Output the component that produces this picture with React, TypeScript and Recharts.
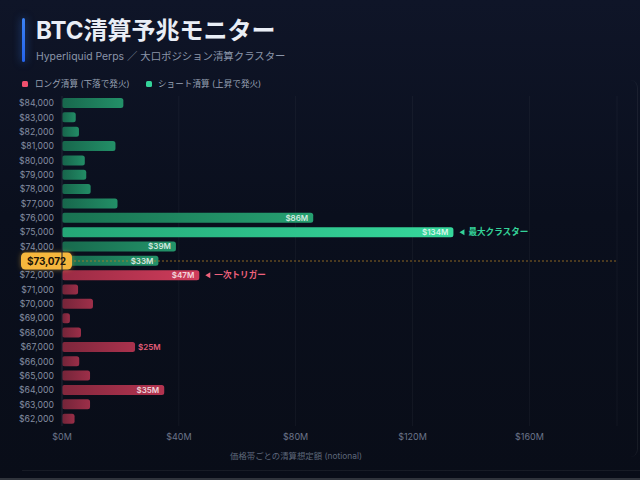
import React from "react";
import {
  BarChart,
  Bar,
  XAxis,
  YAxis,
  CartesianGrid,
  ReferenceLine,
  LabelList,
  Cell,
} from "recharts";

// ---- data ----
const prices = [
  84000, 83000, 82000, 81000, 80000, 79000, 78000, 77000, 76000, 75000, 74000, 73000,
  72000, 71000, 70000, 69000, 68000, 67000, 66000, 65000, 64000, 63000, 62000,
];
// short liquidations (above), $M, for 84000..73000
const shortValues = [21, 4.7, 5.8, 18.3, 7.8, 8.3, 9.8, 19, 86, 134, 39, 33];
// long liquidations (below), $M, for 72000..62000
const longValues = [47, 5.5, 10.6, 2.7, 6.5, 25, 5.9, 9.6, 35, 9.6, 4.3];
const xTicks = [0, 40, 80, 120, 160];
const xMax = 190;
const currentPrice = 73072;
const currentPriceRow = 73000;
const maxClusterPrice = 75000;
const triggerPrice = 72000;
const labelThreshold = 25;

const rows = prices.map((p, i) => ({
  price: p,
  short: i < shortValues.length ? shortValues[i] : null,
  long: i >= shortValues.length ? longValues[i - shortValues.length] : null,
}));

const maxShort = Math.max(...shortValues);
const maxLong = Math.max(...longValues);
const triggerValue = rows.find((r) => r.price === triggerPrice)?.long;

const FONT = "Inter, 'Noto Sans CJK JP', 'Noto Sans', sans-serif";

const fmtPrice = (v: number) => "$" + Number(v).toLocaleString("en-US");

function makeLabel(side: "short" | "long") {
  return (props: any) => {
    const { x, y, width, height, value } = props;
    const nx = Number(x);
    const ny = Number(y);
    const w = Number(width);
    const h = Number(height);
    if (value === null || value === undefined || isNaN(nx)) return null;
    const cy = ny + h / 2;
    const endX = nx + w;
    const parts: React.ReactNode[] = [];
    if (value >= labelThreshold) {
      const inside = value >= 30;
      parts.push(
        <text
          key="v"
          x={inside ? endX - 5 : endX + 3}
          y={cy}
          dy="0.35em"
          textAnchor={inside ? "end" : "start"}
          fontSize={8}
          fontWeight={600}
          fontFamily={FONT}
          fill={inside ? "rgba(255,255,255,0.8)" : side === "long" ? "#e35d78" : "#34d399"}
        >
          {"$" + Math.round(value) + "M"}
        </text>
      );
    }
    const isMax = side === "short" && value === maxShort;
    const isTrigger = side === "long" && value === triggerValue;
    if (isMax || isTrigger) {
      const color = isMax ? "#34d399" : "#f0627c";
      const text = isMax ? "最大クラスター" : "一次トリガー";
      const tx = endX + 6;
      parts.push(
        <g key="a">
          <path d={`M${tx} ${cy} L${tx + 5} ${cy - 3} L${tx + 5} ${cy + 3} Z`} fill={color} />
          <text
            x={tx + 9}
            y={cy}
            dy="0.35em"
            fontSize={8.6}
            fontWeight={700}
            fontFamily={FONT}
            fill={color}
          >
            {text}
          </text>
        </g>
      );
    }
    return <g>{parts}</g>;
  };
}

const Badge = (props: any) => {
  const vb = props.viewBox || {};
  const x = Number(vb.x);
  const y = Number(vb.y);
  if (isNaN(x) || isNaN(y)) return null;
  return (
    <g>
      <rect
        x={x - 41}
        y={y - 8.5}
        width={51}
        height={17}
        rx={4.5}
        fill="#f6b73c"
        filter="url(#badgeGlow)"
      />
      <text
        x={x - 15.5}
        y={y}
        dy="0.36em"
        textAnchor="middle"
        fontSize={10}
        fontWeight={700}
        letterSpacing={-0.2}
        fontFamily={FONT}
        fill="#1d1406"
      >
        {fmtPrice(currentPrice)}
      </text>
    </g>
  );
};

export default function App() {
  return (
    <div
      style={{
        position: "absolute",
        left: 0,
        top: 0,
        width: 640,
        height: 480,
        overflow: "hidden",
        background: "linear-gradient(180deg, #0f1528 0%, #0a0f1d 45%, #090d18 100%)",
        fontFamily: FONT,
      }}
    >
      {/* accent bar */}
      <div
        style={{
          position: "absolute",
          left: 22,
          top: 18,
          width: 3,
          height: 44,
          borderRadius: 2,
          background: "linear-gradient(180deg, #3b82f6, #2563eb)",
          boxShadow: "0 0 8px rgba(59,130,246,0.6)",
        }}
      />
      <div
        style={{
          position: "absolute",
          left: 36,
          top: 18,
          fontSize: 24,
          lineHeight: "26px",
          fontWeight: 700,
          color: "#e9eef6",
          whiteSpace: "nowrap",
        }}
      >
        BTC清算予兆モニター
      </div>
      <div
        style={{
          position: "absolute",
          left: 36,
          top: 50,
          fontSize: 10.4,
          lineHeight: "14px",
          color: "#8b95a9",
          whiteSpace: "nowrap",
        }}
      >
        Hyperliquid Perps ／ 大口ポジション清算クラスター
      </div>
      {/* legend */}
      <div style={{ position: "absolute", left: 22, top: 81, width: 6, height: 6, borderRadius: 1.5, background: "#f0506e" }} />
      <div
        style={{ position: "absolute", left: 35, top: 78, fontSize: 8.6, lineHeight: "12px", color: "#98a1b3", whiteSpace: "nowrap" }}
      >
        ロング清算 (下落で発火)
      </div>
      <div style={{ position: "absolute", left: 146, top: 81, width: 6, height: 6, borderRadius: 1.5, background: "#34d399" }} />
      <div
        style={{ position: "absolute", left: 158, top: 78, fontSize: 8.6, lineHeight: "12px", color: "#98a1b3", whiteSpace: "nowrap" }}
      >
        ショート清算 (上昇で発火)
      </div>

      {/* faint panel edges */}
      <div
        style={{
          position: "absolute",
          left: 500,
          top: 80,
          width: 137,
          height: 377,
          borderRight: "1px solid rgba(255,255,255,0.06)",
          borderTopRightRadius: 8,
          borderBottomRightRadius: 8,
        }}
      />
      <div style={{ position: "absolute", left: 22, top: 470, width: 618, height: 1, background: "rgba(255,255,255,0.06)" }} />
      <div style={{ position: "absolute", left: 0, top: 478, width: 640, height: 2, background: "#30343c" }} />

      <div style={{ position: "absolute", left: 0, top: 0 }}>
        <BarChart
          width={640}
          height={480}
          data={rows}
          layout="vertical"
          margin={{ top: 96, right: 23, bottom: 24, left: 0 }}
        >
          <defs>
            <linearGradient id="gShort" x1="0" y1="0" x2="1" y2="0">
              <stop offset="0%" stopColor="#1a7a56" />
              <stop offset="100%" stopColor="#28ad78" />
            </linearGradient>
            <linearGradient id="gShortHi" x1="0" y1="0" x2="1" y2="0">
              <stop offset="0%" stopColor="#24a676" />
              <stop offset="100%" stopColor="#36d89c" />
            </linearGradient>
            <linearGradient id="gLong" x1="0" y1="0" x2="1" y2="0">
              <stop offset="0%" stopColor="#8a293f" />
              <stop offset="100%" stopColor="#bd3653" />
            </linearGradient>
            <linearGradient id="gLongHi" x1="0" y1="0" x2="1" y2="0">
              <stop offset="0%" stopColor="#9a2b44" />
              <stop offset="100%" stopColor="#d03c5b" />
            </linearGradient>
            <filter id="badgeGlow" x="-30%" y="-60%" width="160%" height="220%">
              <feDropShadow dx="0" dy="0" stdDeviation="2.5" floodColor="#f6b73c" floodOpacity="0.45" />
            </filter>
          </defs>
          <CartesianGrid horizontal={false} stroke="rgba(255,255,255,0.045)" />
          <XAxis
            type="number"
            domain={[0, xMax]}
            ticks={xTicks}
            tickFormatter={(v) => `$${v}M`}
            axisLine={false}
            tickLine={false}
            height={30}
            tick={{ fill: "#6c7589", fontSize: 9, fontFamily: FONT }}
          />
          <YAxis
            type="category"
            dataKey="price"
            width={62}
            interval={0}
            tickFormatter={(v) => (v === currentPriceRow ? "" : fmtPrice(v))}
            axisLine={{ stroke: "#1c2333" }}
            tickLine={false}
            tick={{ fill: "#858ea2", fontSize: 8.7, fontFamily: FONT }}
          />
          <Bar dataKey="short" stackId="a" barSize={10} radius={2.5} isAnimationActive={false}>
            {rows.map((r) => (
              <Cell
                key={"s" + r.price}
                fill={r.price === maxClusterPrice ? "url(#gShortHi)" : "url(#gShort)"}
                fillOpacity={r.short == null ? 1 : 0.78 + 0.22 * (r.short / maxShort)}
              />
            ))}
            <LabelList dataKey="short" content={makeLabel("short")} />
          </Bar>
          <Bar dataKey="long" stackId="a" barSize={10} radius={2.5} isAnimationActive={false}>
            {rows.map((r) => (
              <Cell
                key={"l" + r.price}
                fill={r.price === triggerPrice ? "url(#gLongHi)" : "url(#gLong)"}
                fillOpacity={r.long == null ? 1 : 0.78 + 0.22 * (r.long / maxLong)}
              />
            ))}
            <LabelList dataKey="long" content={makeLabel("long")} />
          </Bar>
          <ReferenceLine
            y={currentPriceRow}
            stroke="#b88327"
            strokeOpacity={0.75}
            strokeDasharray="2 2"
            label={<Badge />}
          />
        </BarChart>
      </div>
      <div
        style={{
          position: "absolute",
          left: 296,
          top: 451,
          transform: "translateX(-50%)",
          fontSize: 8.4,
          lineHeight: "10px",
          color: "#5e677a",
          whiteSpace: "nowrap",
        }}
      >
        価格帯ごとの清算想定額 (notional)
      </div>
    </div>
  );
}
